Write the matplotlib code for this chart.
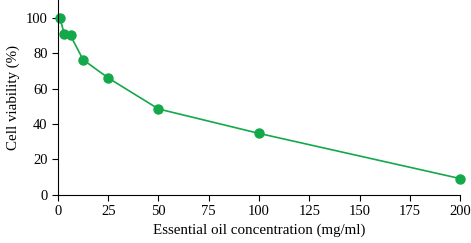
import matplotlib
matplotlib.use("Agg")
import matplotlib.pyplot as plt

conc = [1, 3.125, 6.25, 12.5, 25, 50, 100, 200]
viability = [100, 90.8, 90, 76.3, 66, 48.5, 34.7, 9.2]
xticks = [0, 25, 50, 75, 100, 125, 150, 175, 200]
yticks = [0, 20, 40, 60, 80, 100]

plt.rcParams['font.family'] = ['Liberation Serif', 'DejaVu Serif']

fig = plt.figure(figsize=(4.71, 2.43), dpi=100)
ax = fig.add_axes([0.123, 0.198, 0.854, 0.802])

green = '#13a84a'
ax.plot(conc, viability, color=green, lw=1.2, marker='o', ms=6.5, clip_on=False)

ax.set_xlim(0, 200)
ax.set_ylim(0, 110)
ax.set_xticks(xticks)
ax.set_yticks(yticks)
for s in ['top', 'right']:
    ax.spines[s].set_visible(False)
ax.tick_params(labelsize=10.5, length=4, direction='out')
ax.set_xlabel("Essential oil concentration (mg/ml)", fontsize=10.8)
ax.set_ylabel("Cell viability (%)", fontsize=10.8)

fig.savefig("out.png", dpi=100)
